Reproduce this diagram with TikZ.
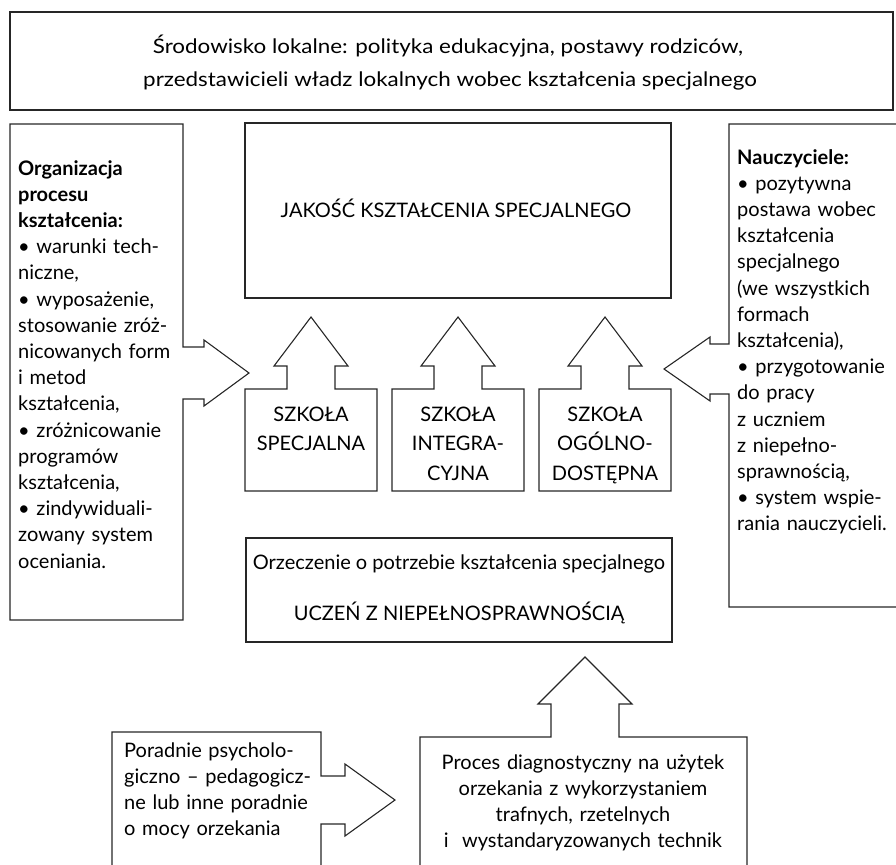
\documentclass[tikz,border=0pt]{standalone}
\usepackage{fontspec}
\setmainfont{Lato}
\newfontfamily\widefont{Lato}[FakeStretch=1.12]
\begin{document}
\begin{tikzpicture}[x=1pt,y=-1pt,
  shapeline/.style={draw=black!85, line width=1.1pt, line join=miter},
  txt/.style={inner sep=0pt, font=\fontsize{20}{26.2}\selectfont},
  blocktxt/.style={txt, align=left, text width=200pt, anchor=base west},
  centxt/.style={txt, align=center, anchor=base},
  schooltxt/.style={inner sep=0pt, font=\fontsize{20}{29.5}\selectfont, align=center, text width=130pt, anchor=base}]
\useasboundingbox (0,0) rectangle (896,864);
\clip (0,0) rectangle (896,864);

% top environment box
\draw[shapeline] (10,12) rectangle (893,110);
\node[centxt, font=\widefont\fontsize{20}{26.2}\selectfont] (env1) at (448,54) {Środowisko lokalne: polityka edukacyjna, postawy rodziców,};
\node[centxt, font=\widefont\fontsize{20}{26.2}\selectfont] (env2) at (450,87) {przedstawicieli władz lokalnych wobec kształcenia specjalnego};

% left box with arrow
\draw[shapeline] (10,124) -- (183,124) -- (183,347) -- (204,347) -- (204,340) -- (249,373)
  -- (204,406) -- (204,399) -- (183,399) -- (183,620) -- (10,620) -- cycle;
\node[blocktxt] (org) at (18,175) {\textbf{Organizacja}\\\textbf{procesu}\\\textbf{kształcenia:}\\
• warunki tech-\\niczne,\\• wyposażenie,\\stosowanie zróż-\\nicowanych form\\i metod\\kształcenia,\\
• zróżnicowanie\\programów\\kształcenia,\\• zindywiduali-\\zowany system\\oceniania.};

% quality box
\draw[shapeline] (245,123) rectangle (671,298);
\node[centxt] (jakosc) at (456,217) {JAKOŚĆ KSZTAŁCENIA SPECJALNEGO};

% schools
\foreach \c in {311,458,605}{
  \draw[shapeline] ({\c-66},389) -- ({\c-24},389) -- ({\c-24},366) -- ({\c-37},366) -- (\c,317)
    -- ({\c+37},366) -- ({\c+24},366) -- ({\c+24},389) -- ({\c+66},389) -- ({\c+66},491)
    -- ({\c-66},491) -- cycle;
}
\node[schooltxt] (s1) at (311,421) {SZKOŁA\\SPECJALNA};
\node[schooltxt] (s2) at (458,421) {SZKOŁA\\INTEGRA-\\CYJNA};
\node[schooltxt] (s3) at (605,421) {SZKOŁA\\OGÓLNO-\\DOSTĘPNA};

% right box with arrow
\draw[shapeline] (729,124) -- (897,124) -- (897,607) -- (729,607) -- (729,394) -- (710,394)
  -- (710,401) -- (664,369) -- (710,337) -- (710,344) -- (729,344) -- cycle;
\node[blocktxt] (naucz) at (737,164) {\textbf{Nauczyciele:}\\• pozytywna\\postawa wobec\\kształcenia\\specjalnego\\(we wszystkich\\formach\\kształcenia),\\
• przygotowanie\\do pracy\\z uczniem\\z niepełno-\\sprawnością,\\• system wspie-\\rania nauczycieli.};

% student box
\draw[shapeline] (246,538) rectangle (672,642);
\node[centxt] (orz) at (459,569) {Orzeczenie o potrzebie kształcenia specjalnego};
\node[centxt] (uczen) at (459,620) {UCZEŃ Z NIEPEŁNOSPRAWNOŚCIĄ};

% diagnosis box with up arrow
\draw[shapeline] (420,870) -- (420,737) -- (551,737) -- (551,704) -- (538,704) -- (585,657)
  -- (632,704) -- (619,704) -- (619,737) -- (747,737) -- (747,870);
\node[txt, align=center, text width=320pt, anchor=base] (proc) at (583,769) {Proces diagnostyczny na użytek\\orzekania z wykorzystaniem\\trafnych, rzetelnych\\i\ \ wystandaryzowanych technik};

% counselling box with right arrow
\draw[shapeline] (112,870) -- (112,732) -- (321,732) -- (321,776) -- (345,776) -- (345,764)
  -- (395,800) -- (345,836) -- (345,824) -- (321,824) -- (321,870);
\node[blocktxt] (por) at (124,757) {Poradnie psycholo-\\giczno – pedagogicz-\\ne lub inne poradnie\\o mocy orzekania};
\end{tikzpicture}
\end{document}
